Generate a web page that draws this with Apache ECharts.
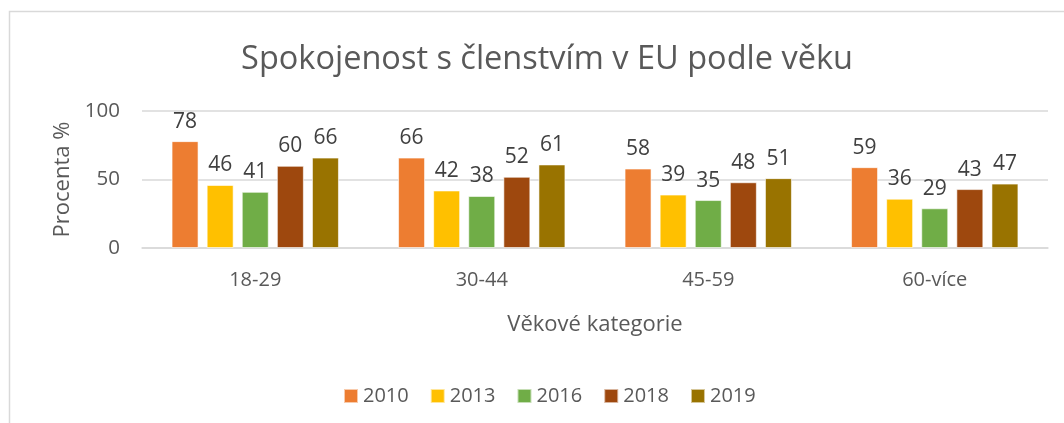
<!DOCTYPE html>
<html><head><meta charset="utf-8">
<script src="https://cdn.jsdelivr.net/npm/echarts@6/dist/echarts.min.js"></script>
<style>html,body{margin:0;padding:0;background:#fff}#c{width:1064px;height:423px}</style>
</head><body><div id="c"></div>
<script>
const categories = ['18-29', '30-44', '45-59', '60-více'];
const years = ['2010', '2013', '2016', '2018', '2019'];
const v2010 = [78, 66, 58, 59];
const v2013 = [46, 42, 39, 36];
const v2016 = [41, 38, 35, 29];
const v2018 = [60, 52, 48, 43];
const v2019 = [66, 61, 51, 47];
const yTicks = [0, 50, 100];
const colors = ['#ED7D31', '#FFC000', '#70AD47', '#9E480E', '#997300'];
const seriesValues = [v2010, v2013, v2016, v2018, v2019];
const FONT = 'Open Sans';
const chart = echarts.init(document.getElementById('c'), null, {renderer: 'canvas'});
chart.setOption({
  animation: false,
  textStyle: {fontFamily: FONT},
  graphic: [{type: 'rect', shape: {x: 9.5, y: 11.5, width: 1200, height: 600}, style: {fill: 'none', stroke: '#d9d9d9', lineWidth: 1.5}, silent: true}],
  title: {text: 'Spokojenost s členstvím v EU podle věku', left: 542, top: 38, textAlign: 'center',
    textStyle: {fontFamily: FONT, fontSize: 32.5, fontWeight: 'normal', color: '#595959'}},
  legend: {data: years, left: 338, top: 381, itemWidth: 14, itemHeight: 14, itemGap: 21,
    icon: 'rect', textStyle: {fontFamily: FONT, fontSize: 20, color: '#595959'}},
  grid: {left: 142, right: 16, top: 111, bottom: 175},
  xAxis: {type: 'category', data: categories, name: 'Věkové kategorie', nameLocation: 'middle', nameGap: 66,
    nameTextStyle: {fontFamily: FONT, fontSize: 22, color: '#595959'},
    axisLine: {lineStyle: {color: '#d9d9d9', width: 1.5}}, axisTick: {show: false},
    axisLabel: {fontFamily: FONT, fontSize: 20, color: '#595959', margin: 22}},
  yAxis: {type: 'value', min: 0, max: 100, interval: 50, name: 'Procenta %', nameLocation: 'middle', nameGap: 66,
    nameTextStyle: {fontFamily: FONT, fontSize: 22, color: '#595959'},
    axisLine: {show: false}, axisTick: {show: false},
    splitLine: {lineStyle: {color: '#d9d9d9', width: 1.5}},
    axisLabel: {fontFamily: FONT, fontSize: 20.5, color: '#595959', margin: 22,
      formatter: v => yTicks.includes(v) ? String(v) : ''}},
  series: years.map((y, i) => ({
    name: y, type: 'bar', data: seriesValues[i], barWidth: 27, barGap: '30%',
    itemStyle: {color: colors[i], borderColor: 'rgba(255,255,255,0.6)', borderWidth: 1},
    label: {show: true, position: 'top', distance: 9, fontFamily: FONT, fontSize: 21, color: '#404040'}
  }))
});
</script></body></html>
